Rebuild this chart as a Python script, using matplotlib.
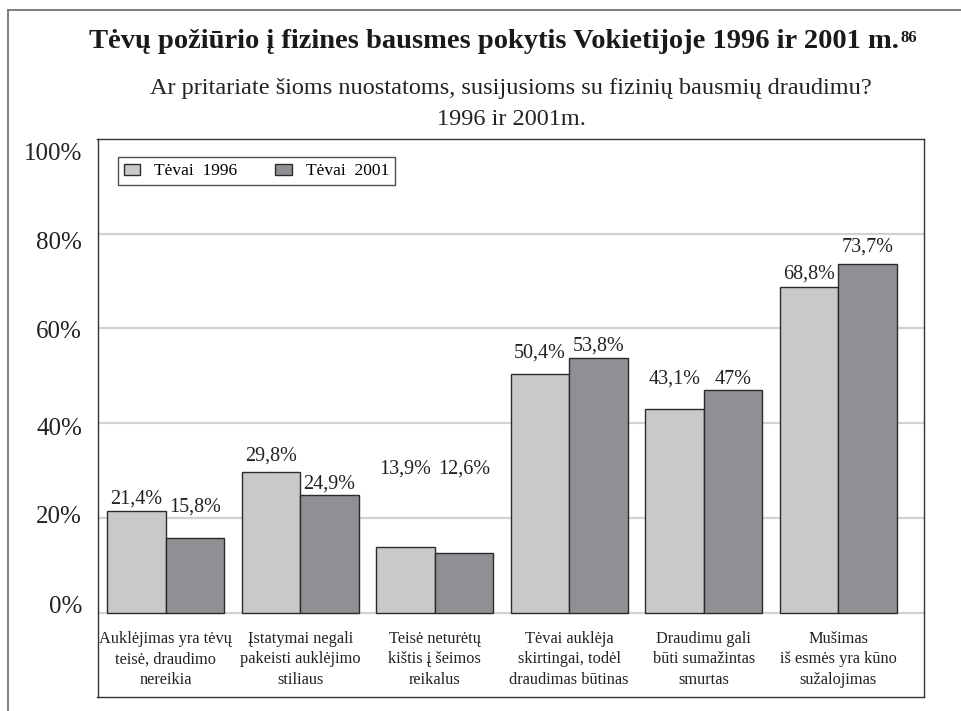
import matplotlib
matplotlib.use("Agg")
import matplotlib.pyplot as plt
import matplotlib.transforms as mtransforms
import numpy as np
from matplotlib.lines import Line2D

plt.rcParams['font.family'] = ['Liberation Serif', 'DejaVu Serif']

categories = [
    "Auklėjimas yra tėvų\nteisė, draudimo\nnereikia",
    "Įstatymai negali\npakeisti auklėjimo\nstiliaus",
    "Teisė neturėtų\nkištis į šeimos\nreikalus",
    "Tėvai auklėja\nskirtingai, todėl\ndraudimas būtinas",
    "Draudimu gali\nbūti sumažintas\nsmurtas",
    "Mušimas\niš esmės yra kūno\nsužalojimas",
]
parents_1996 = [21.4, 29.8, 13.9, 50.4, 43.1, 68.8]
parents_2001 = [15.8, 24.9, 12.6, 53.8, 47.0, 73.7]
labels_1996 = ["21,4%", "29,8%", "13,9%", "50,4%", "43,1%", "68,8%"]
labels_2001 = ["15,8%", "24,9%", "12,6%", "53,8%", "47%", "73,7%"]
series_names = ["Tėvai  1996", "Tėvai  2001"]
yticks = [0, 20, 40, 60, 80, 100]

# where the value labels sit (as in the original, they are placed by hand)
label_pos_1996 = [23.9, 33.0, 30.4, 54.8, 49.3, 71.5]
label_pos_2001 = [22.2, 27.1, 30.4, 56.2, 49.3, 77.2]

light = "#c8c9cb"
dark = "#909094"
edge = "#2b2b2b"
grid = "#d2d2d2"
textc = "#222222"

fig = plt.figure(figsize=(9.62, 7.11), dpi=100)
W, H = 962, 711

# page frame (top and left edges only)
fig.add_artist(Line2D([8 / W, 1], [1 - 10 / H, 1 - 10 / H], color="#6a6a6a", lw=1.2))
fig.add_artist(Line2D([8 / W, 8 / W], [0, 1 - 10 / H], color="#6a6a6a", lw=1.2))

ax = fig.add_axes([97.5 / W, 1 - 697 / H, (924 - 97.5) / W, (697 - 139) / H])
x = np.arange(len(categories))
width = 0.435

for t in yticks[:-1]:
    ax.axhline(t, color=grid, lw=1.6, zorder=0)

ax.bar(x - width / 2, parents_1996, width, color=light, edgecolor=edge, lw=1.0,
       label=series_names[0], zorder=2)
ax.bar(x + width / 2, parents_2001, width, color=dark, edgecolor=edge, lw=1.0,
       label=series_names[1], zorder=2)

for i in range(len(categories)):
    ax.text(x[i] - width / 2, label_pos_1996[i], labels_1996[i], ha="center", va="center",
            fontsize=14.5, color=textc)
    ax.text(x[i] + width / 2, label_pos_2001[i], labels_2001[i], ha="center", va="center",
            fontsize=14.5, color=textc)
    ax.text(x[i], -3.8, categories[i], ha="center", va="top", fontsize=11.8,
            linespacing=1.4, color=textc)

ax.set_xlim(-0.507, 5.638)
ax.set_ylim(-17.8, 100)
ax.set_xticks([])
ax.set_yticks(yticks)
ax.set_yticklabels([f"{t}%" for t in yticks], fontsize=18, color=textc)
ax.tick_params(axis="y", length=0, pad=11)
# the printed tick labels sit a little off the grid lines
for lab, dy in zip(ax.get_yticklabels(), [8, 3, -3, -1, -7, -13]):
    lab.set_transform(lab.get_transform() + mtransforms.ScaledTranslation(0, dy / 100, fig.dpi_scale_trans))
for s in ax.spines.values():
    s.set_color("#333333")
    s.set_linewidth(1.0)

leg = ax.legend(loc="upper left", bbox_to_anchor=((117.7 - 97.5) / 826.5, 1 - (157.3 - 139) / 558),
                ncol=2, fontsize=12.5, frameon=True, fancybox=False, edgecolor="#222222",
                handlelength=0.95, handleheight=0.6, handletextpad=0.8, columnspacing=2.2,
                borderpad=0.35, borderaxespad=0)
leg.get_frame().set_linewidth(1.0)

# titles
title = fig.text(494 / W, 1 - 42 / H, "Tėvų požiūrio į fizines bausmes pokytis Vokietijoje 1996 ir 2001 m.",
                 ha="center", va="center", fontsize=20.5, fontweight="bold", color="#1a1a1a")
fig.canvas.draw()
bb = title.get_window_extent()
fig.text(bb.x1 / W + 2 / W, bb.y1 / H - 1 / H, "86", ha="left", va="top", fontsize=12,
         fontweight="bold", color="#1a1a1a")
fig.text(511 / W, 1 - 104 / H, "Ar pritariate šioms nuostatoms, susijusioms su fizinių bausmių draudimu?\n1996 ir 2001m.",
         ha="center", va="center", fontsize=17.5, linespacing=1.6, color=textc)

fig.savefig("out.png", dpi=100)
